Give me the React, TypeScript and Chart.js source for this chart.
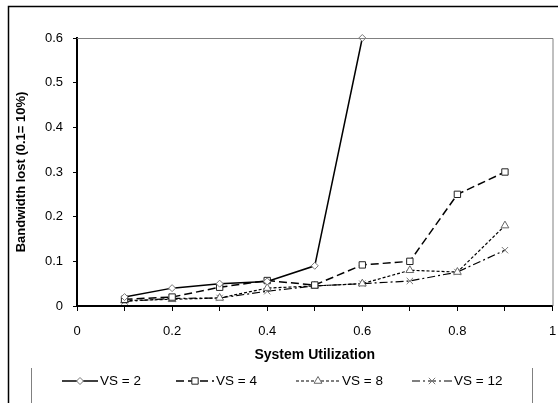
import React, { useEffect, useRef } from "react";
import { Chart, registerables } from "chart.js";
import { drawPoint } from "chart.js/helpers";

Chart.register(...registerables);

const xValues = [0.1, 0.2, 0.3, 0.4, 0.5, 0.6, 0.7, 0.8, 0.9];
const vs2 = [0.02, 0.04, 0.05, 0.055, 0.09, 0.6];
const vs4 = [0.015, 0.02, 0.042, 0.057, 0.047, 0.092, 0.1, 0.25, 0.3];
const vs8 = [0.012, 0.015, 0.018, 0.04, 0.045, 0.05, 0.08, 0.076, 0.18];
const vs12 = [0.01, 0.017, 0.018, 0.033, 0.045, 0.05, 0.056, 0.076, 0.125];
const seriesNames = ["VS = 2", "VS = 4", "VS = 8", "VS = 12"];
const xTickLabels = ["0", "0.2", "0.4", "0.6", "0.8", "1"];
const yTickLabels = ["0", "0.1", "0.2", "0.3", "0.4", "0.5", "0.6"];
const xTitle = "System Utilization";
const yTitle = "Bandwidth lost (0.1= 10%)";

const FONT = "'Liberation Sans', Arial, sans-serif";

const toPoints = (ys: number[]) => ys.map((y, i) => ({ x: xValues[i], y }));

const decorPlugin = {
  id: "decor",
  afterDraw(chart: any) {
    const ctx = chart.ctx;
    const ca = chart.chartArea;
    ctx.save();
    // outer frame
    ctx.strokeStyle = "#000";
    ctx.lineWidth = 1.5;
    ctx.beginPath();
    ctx.moveTo(8.5, 403);
    ctx.lineTo(8.5, 6.5);
    ctx.lineTo(558, 6.5);
    ctx.stroke();
    // plot border top & right
    ctx.strokeStyle = "#808080";
    ctx.lineWidth = 1;
    ctx.beginPath();
    ctx.moveTo(ca.left, ca.top + 0.5);
    ctx.lineTo(ca.right + 0.5, ca.top + 0.5);
    ctx.lineTo(ca.right + 0.5, ca.bottom);
    ctx.stroke();
    // legend box
    ctx.beginPath();
    ctx.moveTo(31.5, 368);
    ctx.lineTo(31.5, 403);
    ctx.moveTo(532.5, 368);
    ctx.lineTo(532.5, 403);
    ctx.stroke();
    // legend items
    const lx = [62, 176, 296, 412];
    const lw = [36, 38, 44, 40];
    const ly = 381;
    chart.data.datasets.forEach((ds: any, i: number) => {
      const x0 = lx[i];
      const x1 = lx[i] + lw[i];
      ctx.save();
      ctx.strokeStyle = ds.borderColor;
      ctx.lineWidth = ds.borderWidth;
      ctx.setLineDash(ds.borderDash || []);
      ctx.beginPath();
      ctx.moveTo(x0, ly);
      ctx.lineTo(x1, ly);
      ctx.stroke();
      ctx.restore();
      ctx.save();
      ctx.strokeStyle = ds.pointBorderColor;
      ctx.fillStyle = ds.pointBackgroundColor;
      ctx.lineWidth = ds.pointBorderWidth;
      drawPoint(
        ctx,
        { pointStyle: ds.pointStyle, radius: ds.pointRadius, rotation: 0, borderWidth: ds.pointBorderWidth },
        (x0 + x1) / 2,
        ly
      );
      ctx.restore();
      ctx.fillStyle = "#000";
      ctx.font = `13.5px ${FONT}`;
      ctx.textBaseline = "middle";
      ctx.textAlign = "left";
      ctx.fillText(seriesNames[i], x1 + 2, ly);
    });
    ctx.restore();
  },
};

export default function App() {
  const ref = useRef<HTMLCanvasElement | null>(null);
  useEffect(() => {
    if (!ref.current) return;
    const common = {
      borderColor: "#000",
      pointBackgroundColor: "#fff",
      pointBorderWidth: 1,
      showLine: true,
      fill: false,
      tension: 0,
      clip: false,
    };
    const chart = new Chart(ref.current, {
      type: "scatter",
      data: {
        datasets: [
          { ...common, label: seriesNames[0], data: toPoints(vs2), borderWidth: 1.5, borderDash: [], pointStyle: "rectRot", pointRadius: 3.5, pointBorderColor: "#777" },
          { ...common, label: seriesNames[1], data: toPoints(vs4), borderWidth: 1.5, borderDash: [8, 4], pointStyle: "rect", pointRadius: 4.5, pointBorderColor: "#222" },
          { ...common, label: seriesNames[2], data: toPoints(vs8), borderWidth: 1.2, borderDash: [3, 2], pointStyle: "triangle", pointRadius: 4.5, pointBorderColor: "#666" },
          { ...common, label: seriesNames[3], data: toPoints(vs12), borderWidth: 1.2, borderDash: [8, 3, 2, 3], pointStyle: "crossRot", pointRadius: 4.5, pointBorderColor: "#777" },
        ] as any,
      },
      options: {
        responsive: false,
        animation: false,
        devicePixelRatio: 1,
        layout: { padding: { top: 38, right: 3, bottom: 39, left: 0 } },
        plugins: { legend: { display: false }, tooltip: { enabled: false } },
        scales: {
          x: {
            type: "linear",
            min: 0,
            max: 1,
            afterFit: (s: any) => { s.height = 58; s.paddingRight = 0; s.paddingLeft = 0; },
            ticks: {
              stepSize: 0.1,
              autoSkip: false,
              maxRotation: 0,
              padding: 13,
              color: "#000",
              font: { family: FONT, size: 13 },
              callback: (v: any) => {
                const i = Math.round(Number(v) * 10);
                return i % 2 === 0 ? xTickLabels[i / 2] : "";
              },
            },
            grid: { drawOnChartArea: false, drawTicks: true, tickLength: 5, color: "#000" },
            border: { color: "#000", width: 2 },
            title: { display: true, text: xTitle, color: "#000", font: { family: FONT, size: 14, weight: "bold" }, padding: { top: 0, bottom: 0 } },
          },
          y: {
            type: "linear",
            min: 0,
            max: 0.6,
            afterFit: (s: any) => { s.width = 77; },
            ticks: {
              stepSize: 0.1,
              padding: 10,
              color: "#000",
              font: { family: FONT, size: 13 },
              callback: (v: any) => yTickLabels[Math.round(Number(v) * 10)],
            },
            grid: { drawOnChartArea: false, drawTicks: true, tickLength: 4, color: "#000" },
            border: { color: "#000", width: 2 },
            title: { display: true, text: yTitle, color: "#000", font: { family: FONT, size: 13, weight: "bold" }, padding: { top: 14, bottom: 0 } },
          },
        },
      },
      plugins: [decorPlugin],
    });
    return () => chart.destroy();
  }, []);
  return (
    <div style={{ position: "absolute", left: 0, top: 0, width: 558, height: 403, background: "#fff" }}>
      <canvas ref={ref} width={558} height={403} style={{ width: 558, height: 403, display: "block" }} />
    </div>
  );
}
